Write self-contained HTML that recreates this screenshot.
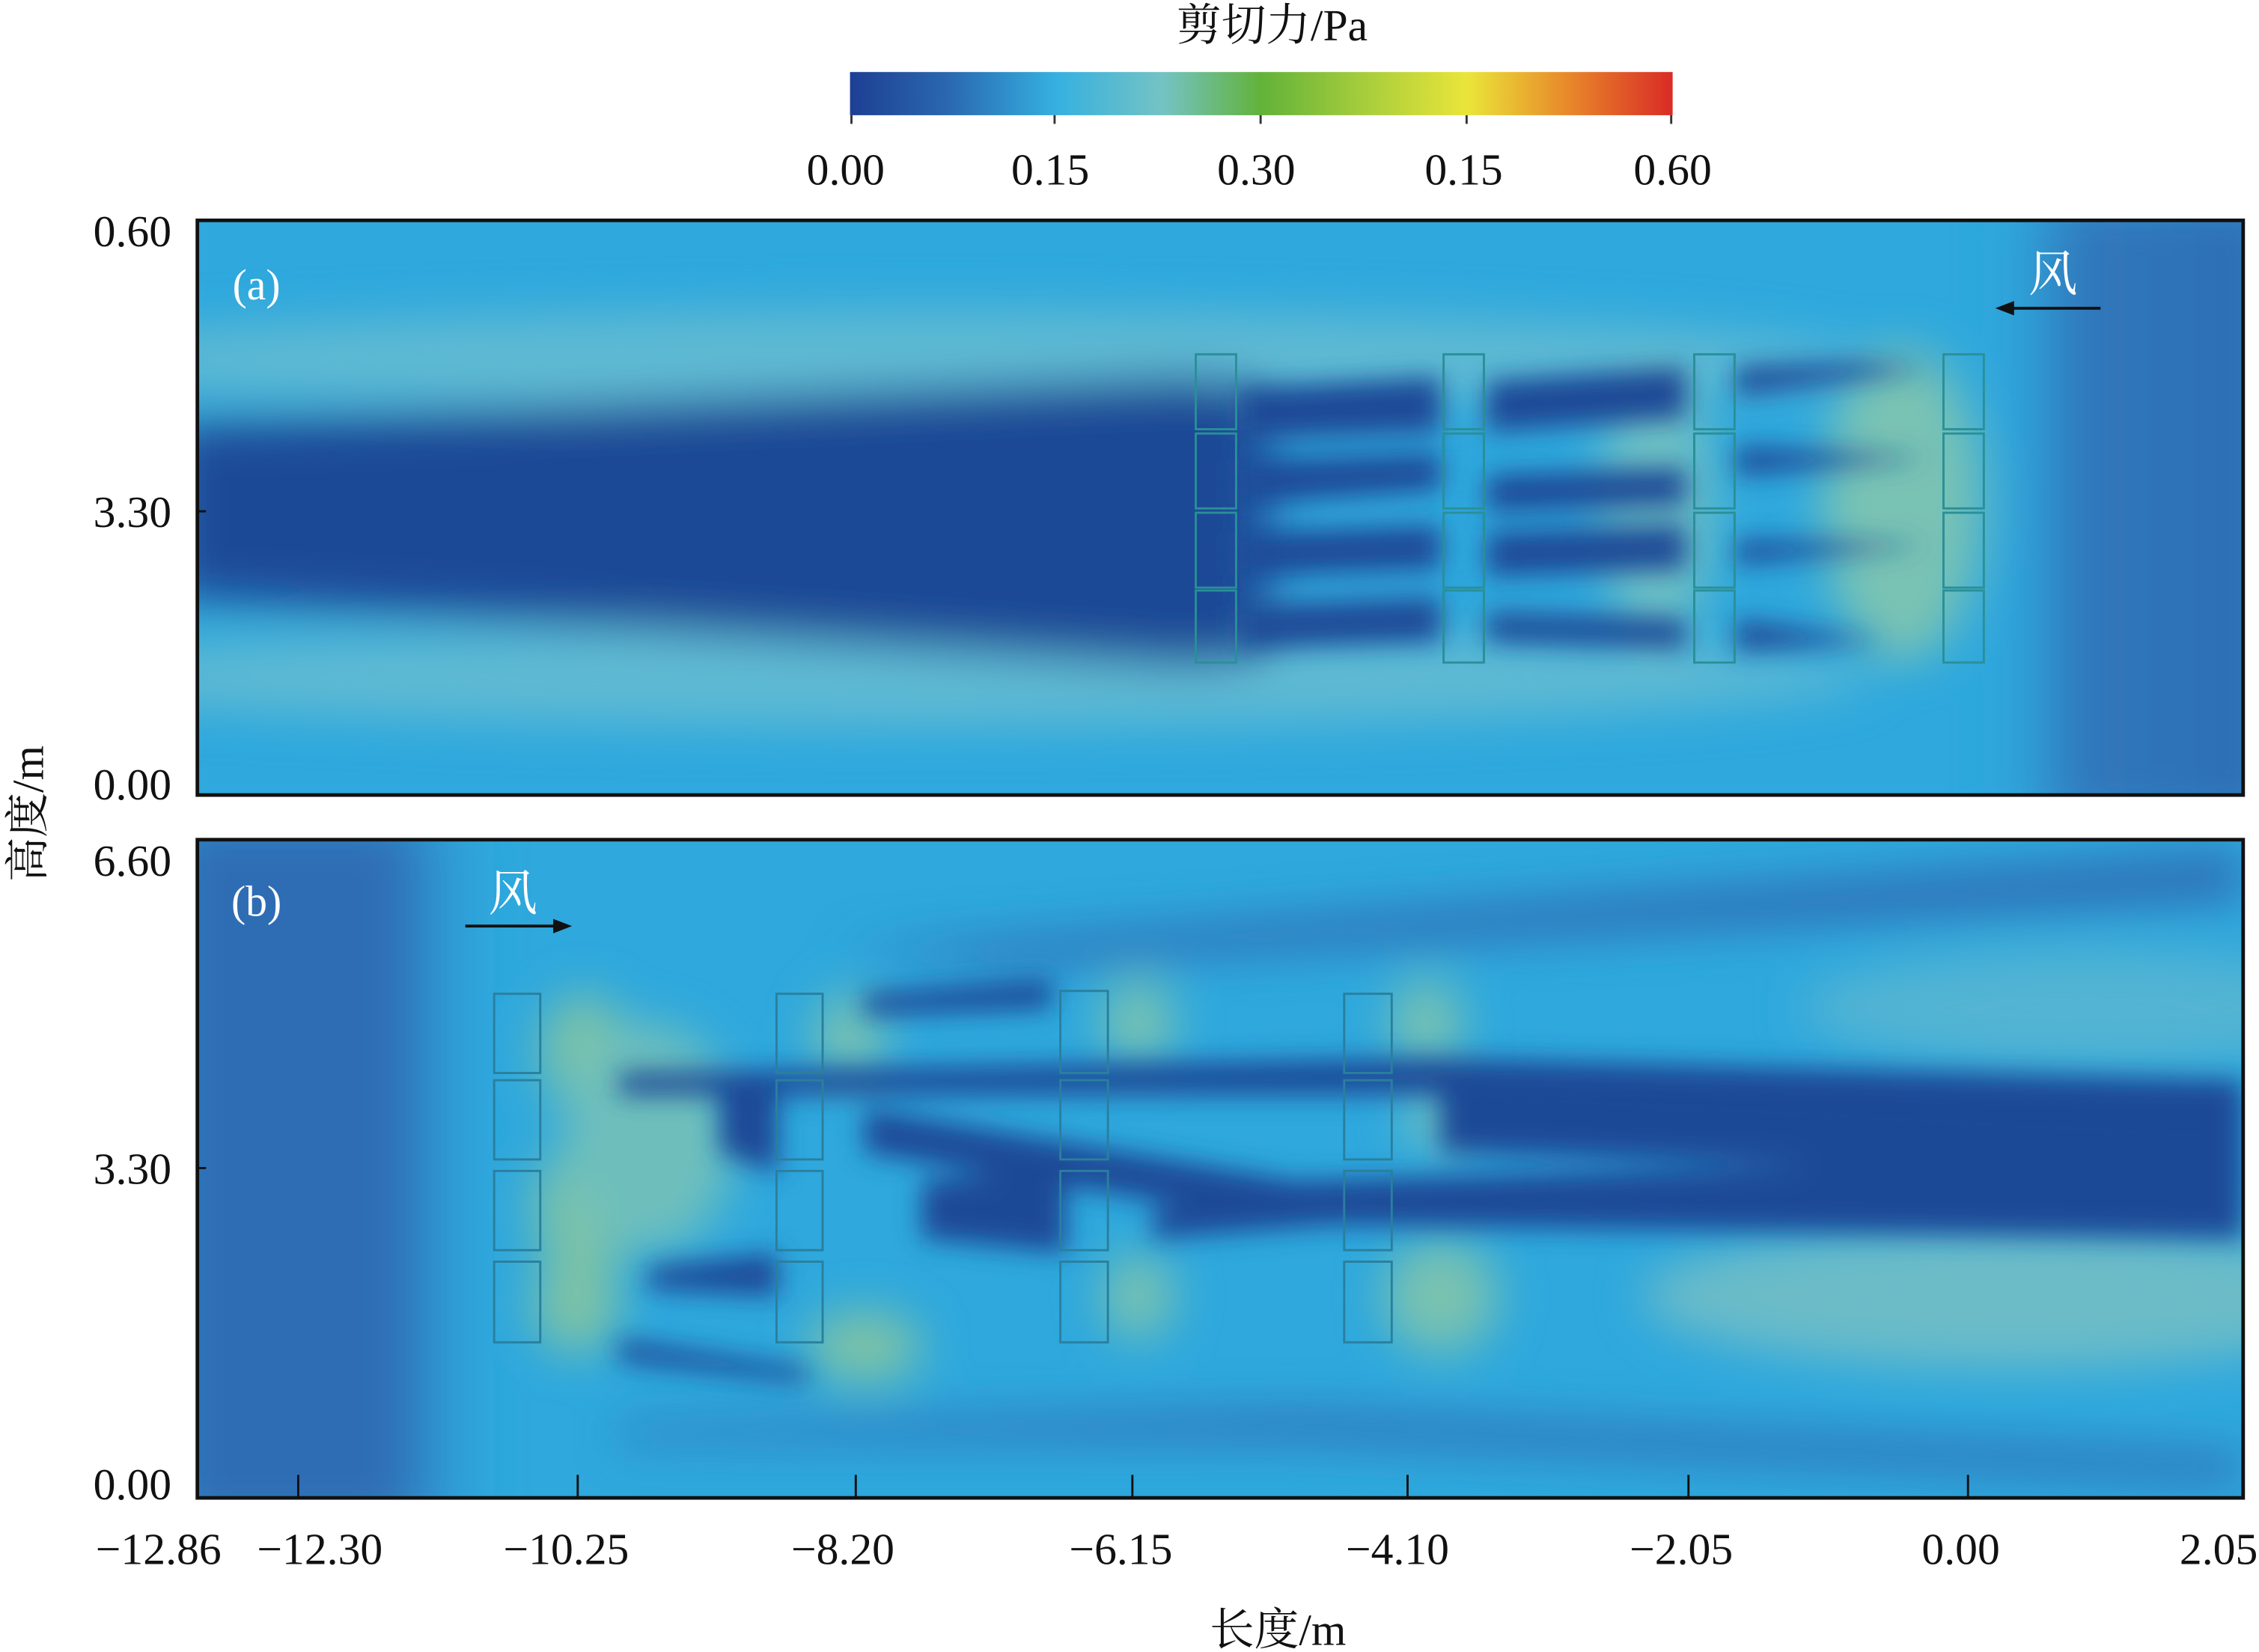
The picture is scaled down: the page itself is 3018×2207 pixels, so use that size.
<!DOCTYPE html>
<html><head><meta charset="utf-8"><style>
html,body{margin:0;padding:0;background:#fff;}
svg{display:block;}
text{font-family:"Liberation Serif","Noto Serif CJK SC",serif;fill:#111;}
</style></head><body>
<svg width="3018" height="2207" viewBox="0 0 1568 1147" preserveAspectRatio="none" xmlns="http://www.w3.org/2000/svg">
<defs>
<linearGradient id="cb" x1="0" x2="1">
<stop offset="0" stop-color="#1d3f93"/><stop offset="0.12" stop-color="#2a68b0"/>
<stop offset="0.25" stop-color="#35b0e0"/><stop offset="0.38" stop-color="#74c3c4"/>
<stop offset="0.5" stop-color="#62b23a"/><stop offset="0.62" stop-color="#a4cc3c"/>
<stop offset="0.75" stop-color="#eae53a"/><stop offset="0.87" stop-color="#e88a2a"/>
<stop offset="1" stop-color="#d92b26"/></linearGradient>
<filter id="b1" x="-20%" y="-20%" width="140%" height="140%"><feGaussianBlur stdDeviation="16"/></filter>
<filter id="b2" x="-20%" y="-30%" width="140%" height="160%"><feGaussianBlur stdDeviation="9"/></filter>
<clipPath id="ca"><rect x="137" y="153" width="1420" height="399"/></clipPath>
<clipPath id="cbp"><rect x="137" y="583" width="1420" height="457"/></clipPath>
<linearGradient id="ra" x1="0" x2="1"><stop offset="0" stop-color="#2ea8dd" stop-opacity="0"/><stop offset="0.3" stop-color="#3078bb"/><stop offset="1" stop-color="#2e6db3"/></linearGradient>
<linearGradient id="lb" x1="0" x2="1"><stop offset="0" stop-color="#2f6db4"/><stop offset="0.7" stop-color="#2f6db4"/><stop offset="1" stop-color="#2e9ed8" stop-opacity="0"/></linearGradient>
</defs>

<text x="883" y="28" font-size="31" text-anchor="middle">剪切力/Pa</text>
<rect x="590" y="50" width="571" height="30" fill="url(#cb)"/>
<g stroke="#333" stroke-width="1.5">
<line x1="591" y1="80" x2="591" y2="86"/><line x1="732" y1="80" x2="732" y2="86"/><line x1="875" y1="80" x2="875" y2="86"/><line x1="1018" y1="80" x2="1018" y2="86"/><line x1="1160" y1="80" x2="1160" y2="86"/></g>
<g font-size="31" text-anchor="middle">
<text x="587" y="128">0.00</text><text x="729" y="128">0.15</text><text x="872" y="128">0.30</text><text x="1016" y="128">0.15</text><text x="1161" y="128">0.60</text></g>

<g clip-path="url(#ca)">
<rect x="137" y="153" width="1420" height="399" fill="#2ea8dd"/>
<g filter="url(#b1)">
<ellipse cx="650" cy="250" rx="650" ry="35" fill="#5fbad3"/>
<ellipse cx="650" cy="470" rx="650" ry="35" fill="#5fbad3"/>
<rect x="1380" y="140" width="200" height="430" fill="url(#ra)"/>
<polygon points="120,295 830,262 880,270 880,455 830,462 120,415" fill="#1f4a96"/>
<ellipse cx="1320" cy="350" rx="55" ry="110" fill="#79c3b4"/>
<ellipse cx="1150" cy="350" rx="40" ry="100" fill="#6dbfc4"/>
</g>
<g filter="url(#b2)" fill="#1f4a96">
<polygon points="860,270 1000,262 1000,300 860,305"/>
<polygon points="860,320 1000,315 1000,340 860,350"/>
<polygon points="860,370 1000,365 1000,395 860,400"/>
<polygon points="860,420 1000,415 1000,445 860,450"/>
<polygon points="1032,265 1170,255 1170,290 1032,300"/>
<polygon points="1032,330 1170,325 1170,350 1032,355"/>
<polygon points="1032,370 1170,365 1170,395 1032,400"/>
<polygon points="1032,425 1170,430 1170,450 1032,445"/>
<polygon points="1205,255 1290,252 1340,256 1205,275"/>
<polygon points="1205,310 1340,318 1205,330"/>
<polygon points="1205,375 1340,378 1205,392"/>
<polygon points="1205,430 1310,445 1205,452"/>
</g>
</g>
<g fill="none" stroke="#2a8f98" stroke-width="1.5">
<rect x="830" y="246" width="28" height="52"/><rect x="830" y="301" width="28" height="52"/><rect x="830" y="356" width="28" height="52"/><rect x="830" y="410" width="28" height="50"/>
<rect x="1002" y="246" width="28" height="52"/><rect x="1002" y="301" width="28" height="52"/><rect x="1002" y="356" width="28" height="52"/><rect x="1002" y="410" width="28" height="50"/>
<rect x="1176" y="246" width="28" height="52"/><rect x="1176" y="301" width="28" height="52"/><rect x="1176" y="356" width="28" height="52"/><rect x="1176" y="410" width="28" height="50"/>
<rect x="1349" y="246" width="28" height="52"/><rect x="1349" y="301" width="28" height="52"/><rect x="1349" y="356" width="28" height="52"/><rect x="1349" y="410" width="28" height="50"/>
</g>
<rect x="137" y="153" width="1420" height="399" fill="none" stroke="#111" stroke-width="2.5"/>
<line x1="137" y1="355" x2="143" y2="355" stroke="#111" stroke-width="1.5"/>
<text x="178" y="208" font-size="30" text-anchor="middle" style="fill:#fff">(a)</text>
<text x="1425" y="202" font-size="34" text-anchor="middle" style="fill:#fff">风</text>
<line x1="1458" y1="214" x2="1395" y2="214" stroke="#111" stroke-width="2"/>
<polygon points="1385,214 1398,209 1398,219" fill="#111"/>

<g clip-path="url(#cbp)">
<rect x="137" y="583" width="1420" height="457" fill="#2ea8dd"/>
<g filter="url(#b1)">
<rect x="120" y="570" width="220" height="490" fill="url(#lb)"/>
<ellipse cx="1400" cy="900" rx="260" ry="50" fill="#6cbcc8"/>
<ellipse cx="1450" cy="700" rx="200" ry="40" fill="#52b4d3"/>
<polygon points="580,660 1557,590 1557,625 700,670" fill="#2f6eb4"/>
<polygon points="430,990 900,980 1557,1010 1557,1030 900,1000 430,1000" fill="#2f6eb4"/>
<ellipse cx="405" cy="730" rx="30" ry="40" fill="#7ec3a6"/>
<ellipse cx="405" cy="840" rx="35" ry="45" fill="#7ec3a6"/>
<ellipse cx="400" cy="905" rx="30" ry="35" fill="#7ec3a6"/>
<ellipse cx="450" cy="790" rx="60" ry="80" fill="#6ebfbc"/>
<ellipse cx="600" cy="935" rx="40" ry="25" fill="#7ec3a6"/>
<ellipse cx="590" cy="720" rx="25" ry="30" fill="#79c2b0"/>
<ellipse cx="790" cy="710" rx="25" ry="30" fill="#79c2b0"/>
<ellipse cx="790" cy="900" rx="25" ry="30" fill="#79c2b0"/>
<ellipse cx="990" cy="710" rx="25" ry="30" fill="#79c2b0"/>
<ellipse cx="1000" cy="900" rx="40" ry="40" fill="#79c2b0"/>
<ellipse cx="1000" cy="775" rx="25" ry="25" fill="#70c0c0"/>
</g>
<g filter="url(#b2)" fill="#1f4a96">
<polygon points="430,745 1000,735 1557,750 1557,790 1000,760 430,760"/>
<polygon points="600,770 900,820 1557,800 1557,860 900,850 600,800"/>
<polygon points="500,760 540,760 540,815 500,800"/>
<polygon points="640,820 740,810 740,870 640,860"/>
<polygon points="800,840 930,820 930,850 800,860"/>
<polygon points="1000,760 1557,790 1557,820 1000,800"/>
<polygon points="450,880 540,870 540,900 450,895"/>
<polygon points="430,930 560,950 560,960 430,945"/>
<polygon points="600,690 730,680 730,700 600,705"/>
</g>
</g>
<g fill="none" stroke="#2a7f9e" stroke-width="1.5">
<rect x="343" y="690" width="32" height="55"/><rect x="343" y="750" width="32" height="55"/><rect x="343" y="813" width="32" height="55"/><rect x="343" y="876" width="32" height="56"/>
<rect x="539" y="690" width="32" height="55"/><rect x="539" y="750" width="32" height="55"/><rect x="539" y="813" width="32" height="55"/><rect x="539" y="876" width="32" height="56"/>
<rect x="736" y="688" width="33" height="57"/><rect x="736" y="750" width="33" height="55"/><rect x="736" y="813" width="33" height="55"/><rect x="736" y="876" width="33" height="56"/>
<rect x="933" y="690" width="33" height="55"/><rect x="933" y="750" width="33" height="55"/><rect x="933" y="813" width="33" height="55"/><rect x="933" y="876" width="33" height="56"/>
</g>
<rect x="137" y="583" width="1420" height="457" fill="none" stroke="#111" stroke-width="2.5"/>
<line x1="137" y1="811" x2="143" y2="811" stroke="#111" stroke-width="1.5"/>
<g stroke="#111" stroke-width="1.5">
<line x1="207" y1="1040" x2="207" y2="1024"/><line x1="401" y1="1040" x2="401" y2="1024"/><line x1="594" y1="1040" x2="594" y2="1024"/><line x1="786" y1="1040" x2="786" y2="1024"/><line x1="977" y1="1040" x2="977" y2="1024"/><line x1="1172" y1="1040" x2="1172" y2="1024"/><line x1="1366" y1="1040" x2="1366" y2="1024"/></g>
<text x="178" y="636" font-size="30" text-anchor="middle" style="fill:#fff">(b)</text>
<text x="356" y="632" font-size="34" text-anchor="middle" style="fill:#fff">风</text>
<line x1="323" y1="643" x2="387" y2="643" stroke="#111" stroke-width="2"/>
<polygon points="397,643 384,638 384,648" fill="#111"/>

<g font-size="31" text-anchor="end">
<text x="119" y="171">0.60</text><text x="119" y="366">3.30</text><text x="119" y="555">0.00</text>
<text x="119" y="608">6.60</text><text x="119" y="822">3.30</text><text x="119" y="1041">0.00</text></g>
<text transform="translate(30,565) rotate(-90)" font-size="31" text-anchor="middle">高度/m</text>

<g font-size="31" text-anchor="middle">
<text x="110" y="1086">−12.86</text><text x="222" y="1086">−12.30</text><text x="393" y="1086">−10.25</text><text x="585" y="1086">−8.20</text><text x="778" y="1086">−6.15</text><text x="970" y="1086">−4.10</text><text x="1167" y="1086">−2.05</text><text x="1361" y="1086">0.00</text><text x="1540" y="1086">2.05</text></g>
<text x="887" y="1142" font-size="31" text-anchor="middle">长度/m</text>
</svg>
</body></html>
